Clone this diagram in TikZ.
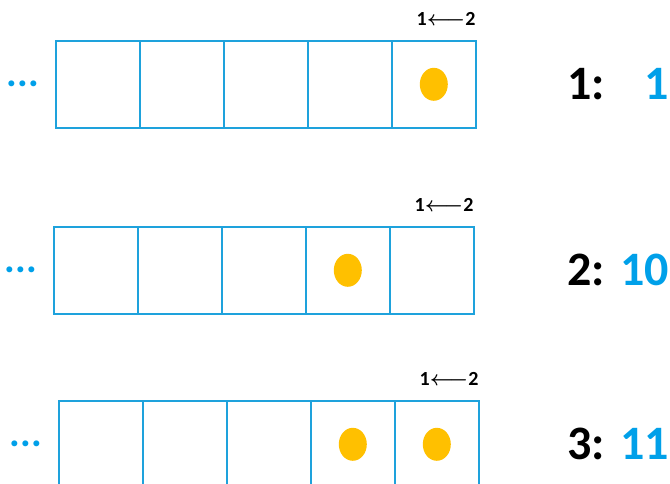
\documentclass[tikz,border=0pt]{standalone}
\usepackage{fontspec}
\setmainfont{Carlito}
\usetikzlibrary{positioning, shapes.geometric}
\definecolor{cellblue}{HTML}{1EA2DC}
\definecolor{textblue}{HTML}{00A0E9}
\definecolor{dotyellow}{HTML}{FFC000}

\begin{document}
\begin{tikzpicture}[
  x=1pt, y=-1pt,
  font=\bfseries,
  cell/.style={draw=cellblue, line width=1.6pt, minimum width=84pt,
               minimum height=87pt, inner sep=0pt, anchor=north west},
  bead/.style={ellipse, fill=dotyellow, minimum width=28pt,
               minimum height=33pt, inner sep=0pt},
  order/.style={font=\bfseries\boldmath\fontsize{20}{22}\selectfont, inner sep=0pt},
  more/.style={text=textblue, font=\bfseries\fontsize{40}{42}\selectfont,
               inner sep=0pt},
  steplabel/.style={font=\bfseries\fontsize{48}{50}\selectfont, inner sep=0pt},
  value/.style={steplabel, text=textblue}
]
\useasboundingbox (0,0) rectangle (670,484);

% ---------------- Rows of cells ----------------
\foreach \r/\x/\y/\v in {1/55/40/1, 2/53/226/10, 3/58/400/11} {
  \foreach \c in {1,...,5}
    \node[cell] (c\r-\c) at ({\x+84*(\c-1)},\y) {};
  \node[more, anchor=east, left=16pt of c\r-1.west] (more\r) {...};
  \node[order, anchor=south east] (ord\r) at ([xshift=-1pt, yshift=14pt]c\r-5.north east)
    {1$\longleftarrow$2};
  \node[steplabel, anchor=west] (lab\r) at (567,0 |- c\r-1.west) {\r:};
  \node[value, anchor=east] (val\r) at (669,0 |- c\r-1.west) {\v};
}

% ---------------- Beads ----------------
\node[bead] (b1) at (c1-5) {};
\node[bead] (b2) at (c2-4) {};
\node[bead] (b3a) at (c3-4) {};
\node[bead] (b3b) at (c3-5) {};

\end{tikzpicture}
\end{document}
